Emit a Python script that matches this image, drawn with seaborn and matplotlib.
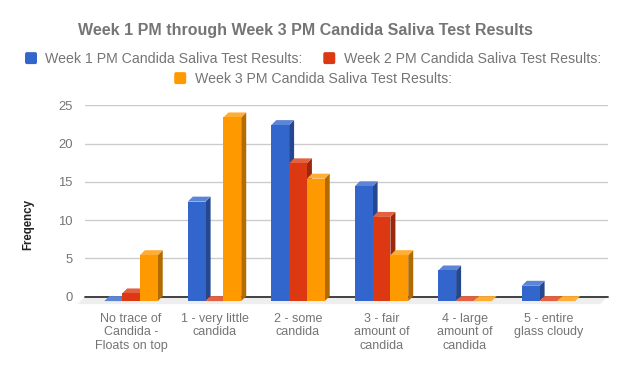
import matplotlib
matplotlib.use("Agg")
import matplotlib.pyplot as plt
import matplotlib.colors as mc
from matplotlib.legend_handler import HandlerPatch
from matplotlib.patches import Polygon, Patch, FancyBboxPatch
from matplotlib.transforms import Affine2D, IdentityTransform
import pandas as pd
import seaborn as sns

categories = ["No trace of\nCandida -\nFloats on top", "1 - very little\ncandida", "2 - some\ncandida",
              "3 - fair\namount of\ncandida", "4 - large\namount of\ncandida", "5 - entire\nglass cloudy"]
week1 = [0, 13, 23, 15, 4, 2]
week2 = [1, 0, 18, 11, 0, 0]
week3 = [6, 24, 16, 6, 0, 0]
series_names = ["Week 1 PM Candida Saliva Test Results:", "Week 2 PM Candida Saliva Test Results:",
                "Week 3 PM Candida Saliva Test Results:"]
colors = ["#3366CC", "#DC3912", "#FF9900"]
title = "Week 1 PM through Week 3 PM Candida Saliva Test Results"
y_label = "Freqency"
y_ticks = [0, 5, 10, 15, 20, 25]

W, H = 626, 371
GREY = "#757575"
DEPTH = 5
DROP = 4.5

sns.set_theme(style="whitegrid", rc={"grid.color": "#cccccc", "grid.linewidth": 1.0})
plt.rcParams["font.family"] = ["Liberation Sans", "DejaVu Sans"]

df = pd.DataFrame({
    "category": categories * 3,
    "value": week1 + week2 + week3,
    "series": sum([[n] * len(categories) for n in series_names], []),
})

fig = plt.figure(figsize=(W / 100, H / 100), dpi=100)
L, R, T, B = 85, 607.7, 105.3, 296.6
ax = fig.add_axes([L / W, 1 - B / H, (R - L) / W, (B - T) / H])
sns.barplot(data=df, x="category", y="value", hue="series", palette=colors, width=0.64, gap=0.0,
            saturation=1, legend=False, ax=ax, linewidth=0, errorbar=None)
ax.set_xlim(-0.551, 5.709)
ax.set_ylim(0, 25)
ax.set_yticks(y_ticks)
ax.grid(axis="x", visible=False)
ax.grid(axis="y", visible=True)
ax.set_axisbelow(True)
for s in ax.spines.values():
    s.set_visible(False)
ax.axhline(0, color="#333333", lw=1.3, zorder=1.5, clip_on=False)
ax.set_xlabel("")
ax.set_ylabel("")
ax.tick_params(axis="both", length=0, labelcolor=GREY, labelsize=9)
ax.tick_params(axis="y", pad=9, labelsize=9.4)
ax.tick_params(axis="x", pad=11.6)
for t in ax.get_xticklabels():
    t.set_linespacing(1.18)

fig.canvas.draw()
floor_y0 = H - B
ax.add_patch(Polygon([(R, floor_y0), (R - 7.5, floor_y0 - 7.5), (L - 7.5, floor_y0 - 7.5), (L, floor_y0)],
                     closed=True, facecolor="#eeeeee", edgecolor="none", transform=IdentityTransform(),
                     clip_on=False, zorder=1))


def blend(c, f, to):
    r = mc.to_rgb(c)
    t = mc.to_rgb(to)
    return tuple(a * (1 - f) + b * f for a, b in zip(r, t))


drop_tf = Affine2D().translate(0, -DROP)
for i, (cont, col) in enumerate(zip(ax.containers, colors)):
    for p in cont.patches:
        (x0, y0) = ax.transData.transform((p.get_x(), 0))
        (x1, y1) = ax.transData.transform((p.get_x() + p.get_width(), p.get_height()))
        y0 -= DROP
        y1 -= DROP
        p.set_transform(ax.transData + drop_tf)
        p.set_clip_on(False)
        p.set_zorder(3 + i + 0.2)
        if y1 - y0 > 0.5:
            ax.add_patch(Polygon([(x1, y0), (x1 + DEPTH, y0 + DEPTH), (x1 + DEPTH, y1 + DEPTH), (x1, y1)], closed=True,
                                 facecolor=blend(col, 0.3, "black"), edgecolor="none",
                                 transform=IdentityTransform(), clip_on=False, zorder=3 + i))
        ax.add_patch(Polygon([(x0, y1), (x1, y1), (x1 + DEPTH, y1 + DEPTH), (x0 + DEPTH, y1 + DEPTH)], closed=True,
                             facecolor=blend(col, 0.2, "white"), edgecolor="none",
                             transform=IdentityTransform(), clip_on=False, zorder=3 + i + 0.1))

fig.text(305.5 / W, 1 - 30 / H, title, ha="center", va="center", fontsize=11.5, fontweight="bold", color=GREY)
fig.text(28 / W, 1 - 224 / H, y_label, ha="center", va="center", rotation=90, fontsize=8.3, fontweight="bold",
         color="#222222")


class RoundedSwatch(HandlerPatch):
    def create_artists(self, legend, orig_handle, xdescent, ydescent, width, height, fontsize, trans):
        side = width
        pad = side * 0.14
        y = (height - side) / 2 - ydescent
        box = FancyBboxPatch((pad, y + pad), side - 2 * pad, side - 2 * pad,
                             boxstyle=f"round,pad={pad},rounding_size={side * 0.16}",
                             facecolor=orig_handle.get_facecolor(), edgecolor="none", transform=trans)
        return [box]


handles = [Patch(facecolor=c, edgecolor="none") for c in colors]
kw = dict(frameon=False, fontsize=10.15, labelcolor=GREY, handlelength=0.85, handleheight=0.85, handletextpad=0.6,
          borderpad=0, borderaxespad=0, loc="center", handler_map={Patch: RoundedSwatch()})
fig.legend(handles[:2], series_names[:2], ncol=2, columnspacing=1.45, bbox_to_anchor=(313 / W, 1 - 59 / H), **kw)
fig.legend(handles[2:], series_names[2:], ncol=1, bbox_to_anchor=(313 / W, 1 - 79 / H), **kw)

fig.savefig("out.png", dpi=100, facecolor="white")
